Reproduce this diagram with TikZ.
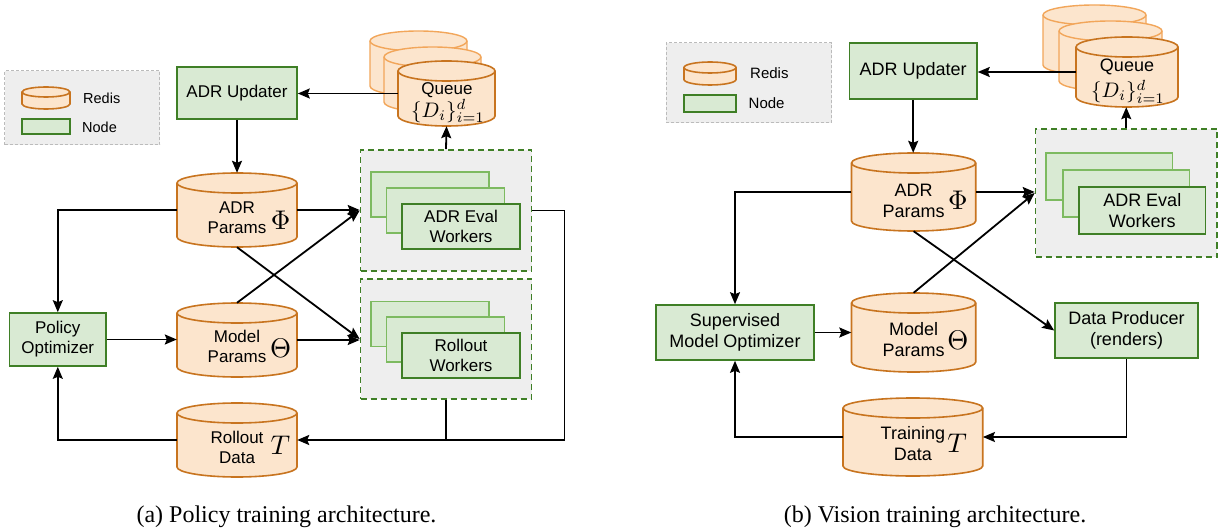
\documentclass[tikz,border=0pt]{standalone}
\usepackage{graphicx}
\usepackage{fontspec}
\setmainfont{Liberation Sans}
\newfontfamily\capfont{Liberation Serif}
\usetikzlibrary{arrows.meta}
\definecolor{orfill}{HTML}{FCE5CD}
\definecolor{ordraw}{HTML}{C8741F}
\definecolor{orlight}{HTML}{F2A65A}
\definecolor{grfill}{HTML}{D9EAD3}
\definecolor{grdraw}{HTML}{3F7F26}
\definecolor{grlight}{HTML}{7DBA60}
\definecolor{panel}{HTML}{EEEEEE}
\definecolor{legdraw}{HTML}{BBBBBB}
\tikzset{
 greenbox/.style={draw=grdraw, fill=grfill, line width=1.6pt, inner sep=0pt, align=center, font=\fontsize{17}{20}\selectfont},
 greenboxB/.style={greenbox, font=\fontsize{18}{21}\selectfont},
 backbox/.style={draw=grlight, fill=grfill, line width=1.4pt, inner sep=0pt},
 groupbox/.style={draw=grdraw, fill=panel, dash pattern=on 6pt off 4pt, line width=1.6pt, inner sep=0pt},
 legendbox/.style={draw=legdraw, fill=panel, dash pattern=on 3pt off 2pt, line width=1pt, inner sep=0pt},
 dbfront/.style={draw=ordraw, fill=orfill, line width=1.6pt},
 dbback/.style={draw=orlight, fill=orfill, line width=1.4pt},
 arr/.style={line width=1.8pt, -{Stealth[length=12pt,width=10pt,inset=2pt]}},
 plain/.style={line width=1.8pt},
 lbl/.style={font=\fontsize{17}{20}\selectfont, align=center, inner sep=0pt},
 lblB/.style={font=\fontsize{18}{21}\selectfont, align=center, inner sep=0pt},
 legtxt/.style={font=\fontsize{14.5}{16}\selectfont, anchor=west, inner sep=0pt},
 legtxtB/.style={font=\fontsize{15}{17}\selectfont, anchor=west, inner sep=0pt},
 sym/.style={inner sep=0pt},
 captxt/.style={font=\capfont\fontsize{24}{27}\selectfont, inner sep=0pt},
}
\newcommand\bigsym[1]{\scalebox{2.7}{$#1$}}
\newcommand\queuemath[1]{{\normalsize\scalebox{#1}{$\{D_i\}_{i=1}^{d}$}}}
\newcommand\dbcyl[7]{%
 \pgfmathsetmacro\cylA{#2}%
 \pgfmathsetmacro\cylB{#3}%
 \pgfmathsetmacro\cylR{(#3-#2)/2}%
 \pgfmathsetmacro\cylT{-(#4)-(#6)}%
 \pgfmathsetmacro\cylL{-(#5)+(#6)}%
 \pgfmathsetmacro\cylW{#3-#2}%
 \pgfmathsetmacro\cylH{#5-#4}%
 \pgfmathsetmacro\cylX{(#2+#3)/2}%
 \pgfmathsetmacro\cylY{-(#4+#5)/2}%
 \path[#7] (\cylA,\cylT) -- (\cylA,\cylL) arc[start angle=180,end angle=360,x radius=\cylR,y radius=#6] -- (\cylB,\cylT) arc[start angle=0,end angle=180,x radius=\cylR,y radius=#6] -- cycle;
 \path[#7,fill=none] (\cylA,\cylT) arc[start angle=180,end angle=360,x radius=\cylR,y radius=#6];
 \node[inner sep=0pt,minimum width=\cylW pt,minimum height=\cylH pt] (#1) at (\cylX,\cylY) {};
}
\begin{document}
\begin{tikzpicture}[x=1pt,y=1pt]
\useasboundingbox[fill=white] (0,0) rectangle (1225,-529);
% ================= LEFT PANEL =================
\node[legendbox, minimum width=155pt, minimum height=74pt] (legA) at (82.3,-108) {};
\dbcyl{legcylA}{22}{70}{87}{109}{5}{dbfront}
\node[legtxt] (legrA) at (83,-98) {Redis};
\node[greenbox, minimum width=48pt, minimum height=15pt] (legnA) at (46,-126.5) {};
\node[legtxt] (legtA) at (82,-127) {Node};

\node[greenbox, minimum width=120pt, minimum height=52pt] (updA) at (237,-93) {ADR Updater};

\dbcyl{qA3}{370}{467}{31}{96}{10}{dbback}
\dbcyl{qA2}{384}{481}{47}{112}{10}{dbback}
\dbcyl{qA}{398}{495}{61}{126}{10}{dbfront}
\node[lbl] (qtA) at (447,-90) {Queue};
\node[lbl] (qmA) at (448,-111) {\queuemath{2.1}};

\dbcyl{adrA}{177}{297}{173}{247}{10}{dbfront}
\node[lbl] (adrtA) at (237,-218) {ADR\\Params};
\node[sym] (phiA) at (280.5,-220) {\bigsym{\Phi}};

\dbcyl{mpA}{177}{297}{303}{377}{10}{dbfront}
\node[lbl] (mptA) at (237,-346) {Model\\Params};
\node[sym] (thA) at (280.5,-348) {\bigsym{\Theta}};

\dbcyl{rdA}{177}{297}{403}{477}{10}{dbfront}
\node[lbl] (rdtA) at (237,-447) {Rollout\\Data};
\node[sym] (tA) at (280.5,-445) {\bigsym{T}};

\node[greenbox, minimum width=96.4pt, minimum height=53pt] (poA) at (57.8,-339.5) {Policy\\Optimizer};

\node[groupbox, minimum width=171pt, minimum height=121pt] (evgA) at (446,-210.5) {};
\node[backbox, minimum width=118pt, minimum height=45pt] (evw3A) at (430,-194.5) {};
\node[backbox, minimum width=118pt, minimum height=45pt] (evw2A) at (445.5,-210.5) {};
\node[greenbox, minimum width=118pt, minimum height=45pt] (evwA) at (461,-226.5) {ADR Eval\\Workers};

\node[groupbox, minimum width=171pt, minimum height=120pt] (rogA) at (446,-339) {};
\node[backbox, minimum width=118pt, minimum height=45pt] (row3A) at (430,-324) {};
\node[backbox, minimum width=118pt, minimum height=45pt] (row2A) at (445.5,-339.5) {};
\node[greenbox, minimum width=118pt, minimum height=45pt] (rowA) at (461,-355.5) {Rollout\\Workers};

\draw[arr] (qA.west) -- (qA.west -| updA.east);
\draw[arr] (updA.south) -- (adrA.north);
\draw[arr] (evgA.north) -- (qA.south);
\draw[arr] (adrA.east) -- (adrA.east -| evgA.west);
\draw[arr] (mpA.north) -- (evgA.west);
\draw[arr] (adrA.south) -- (rogA.west);
\draw[arr] (poA.east) -- (poA.east -| mpA.west);
\draw[arr] (mpA.east) -- (mpA.east -| rogA.west);
\draw[arr] (adrA.west) -| (poA.north);
\draw[arr] (rdA.west) -| (poA.south);
\draw[arr] (rogA.south) |- (rdA.east);
\coordinate (rcA) at (564.4,-210.5);
\draw[plain] (evgA.east) -- (rcA) |- (rogA.south |- rdA.east);

\node[captxt] (capA) at (286.5,-517) {(a) Policy training architecture.};

% ================= RIGHT PANEL =================
\node[legendbox, minimum width=165.5pt, minimum height=80pt] (legB) at (748.75,-83) {};
\dbcyl{legcylB}{684}{736}{62}{85}{5.5}{dbfront}
\node[legtxtB] (legrB) at (750,-73) {Redis};
\node[greenbox, minimum width=52pt, minimum height=17pt] (legnB) at (710,-103.5) {};
\node[legtxtB] (legtB) at (748.5,-103) {Node};

\node[greenboxB, minimum width=127.5pt, minimum height=56pt] (updB) at (913.2,-71) {ADR Updater};

\dbcyl{qB3}{1043}{1146}{5}{75}{10}{dbback}
\dbcyl{qB2}{1059}{1162}{21}{91}{10}{dbback}
\dbcyl{qB}{1076}{1178}{37}{107}{10}{dbfront}
\node[lblB] (qtB) at (1127,-67) {Queue};
\node[lblB] (qmB) at (1128,-91.5) {\queuemath{2.1}};

\dbcyl{adrB}{851.5}{975.7}{153}{231}{10}{dbfront}
\node[lblB] (adrtB) at (913.6,-201) {ADR\\Params};
\node[sym] (phiB) at (957.8,-200) {\bigsym{\Phi}};

\dbcyl{mpB}{851.5}{975.7}{293}{372}{10}{dbfront}
\node[lblB] (mptB) at (913.6,-339.5) {Model\\Params};
\node[sym] (thB) at (957.8,-340) {\bigsym{\Theta}};

\dbcyl{tdB}{843}{982.7}{398}{476}{10}{dbfront}
\node[lblB] (tdtB) at (912.9,-443.5) {Training\\Data};
\node[sym] (tB) at (957,-443) {\bigsym{T}};

\node[greenboxB, minimum width=158pt, minimum height=55pt] (supB) at (735,-332.5) {Supervised\\Model Optimizer};
\node[greenboxB, minimum width=143pt, minimum height=55pt] (dpB) at (1126.5,-330.5) {Data Producer\\(renders)};

\node[groupbox, minimum width=181.5pt, minimum height=128pt] (evgB) at (1126.25,-193) {};
\node[backbox, minimum width=126.5pt, minimum height=47pt] (evw3B) at (1109.25,-176.5) {};
\node[backbox, minimum width=126.5pt, minimum height=47pt] (evw2B) at (1126.25,-193.5) {};
\node[greenboxB, minimum width=126.5pt, minimum height=47pt] (evwB) at (1142.25,-210.5) {ADR Eval\\Workers};

\draw[arr] (qB.west) -- (qB.west -| updB.east);
\draw[arr] (updB.south) -- (updB.south |- adrB.north);
\draw[arr] (evgB.north) -- (evgB.north |- qB.south);
\draw[arr] (adrB.east) -- (adrB.east -| evgB.west);
\draw[arr] (mpB.north) -- (evgB.west);
\draw[arr] (adrB.south) -- (dpB.west);
\draw[arr] (supB.east) -- (supB.east -| mpB.west);
\draw[arr] (adrB.west) -| (supB.north);
\draw[arr] (tdB.west) -| (supB.south);
\draw[arr] (dpB.south) |- (tdB.east);

\node[captxt] (capB) at (935,-517) {(b) Vision training architecture.};
\end{tikzpicture}
\end{document}
